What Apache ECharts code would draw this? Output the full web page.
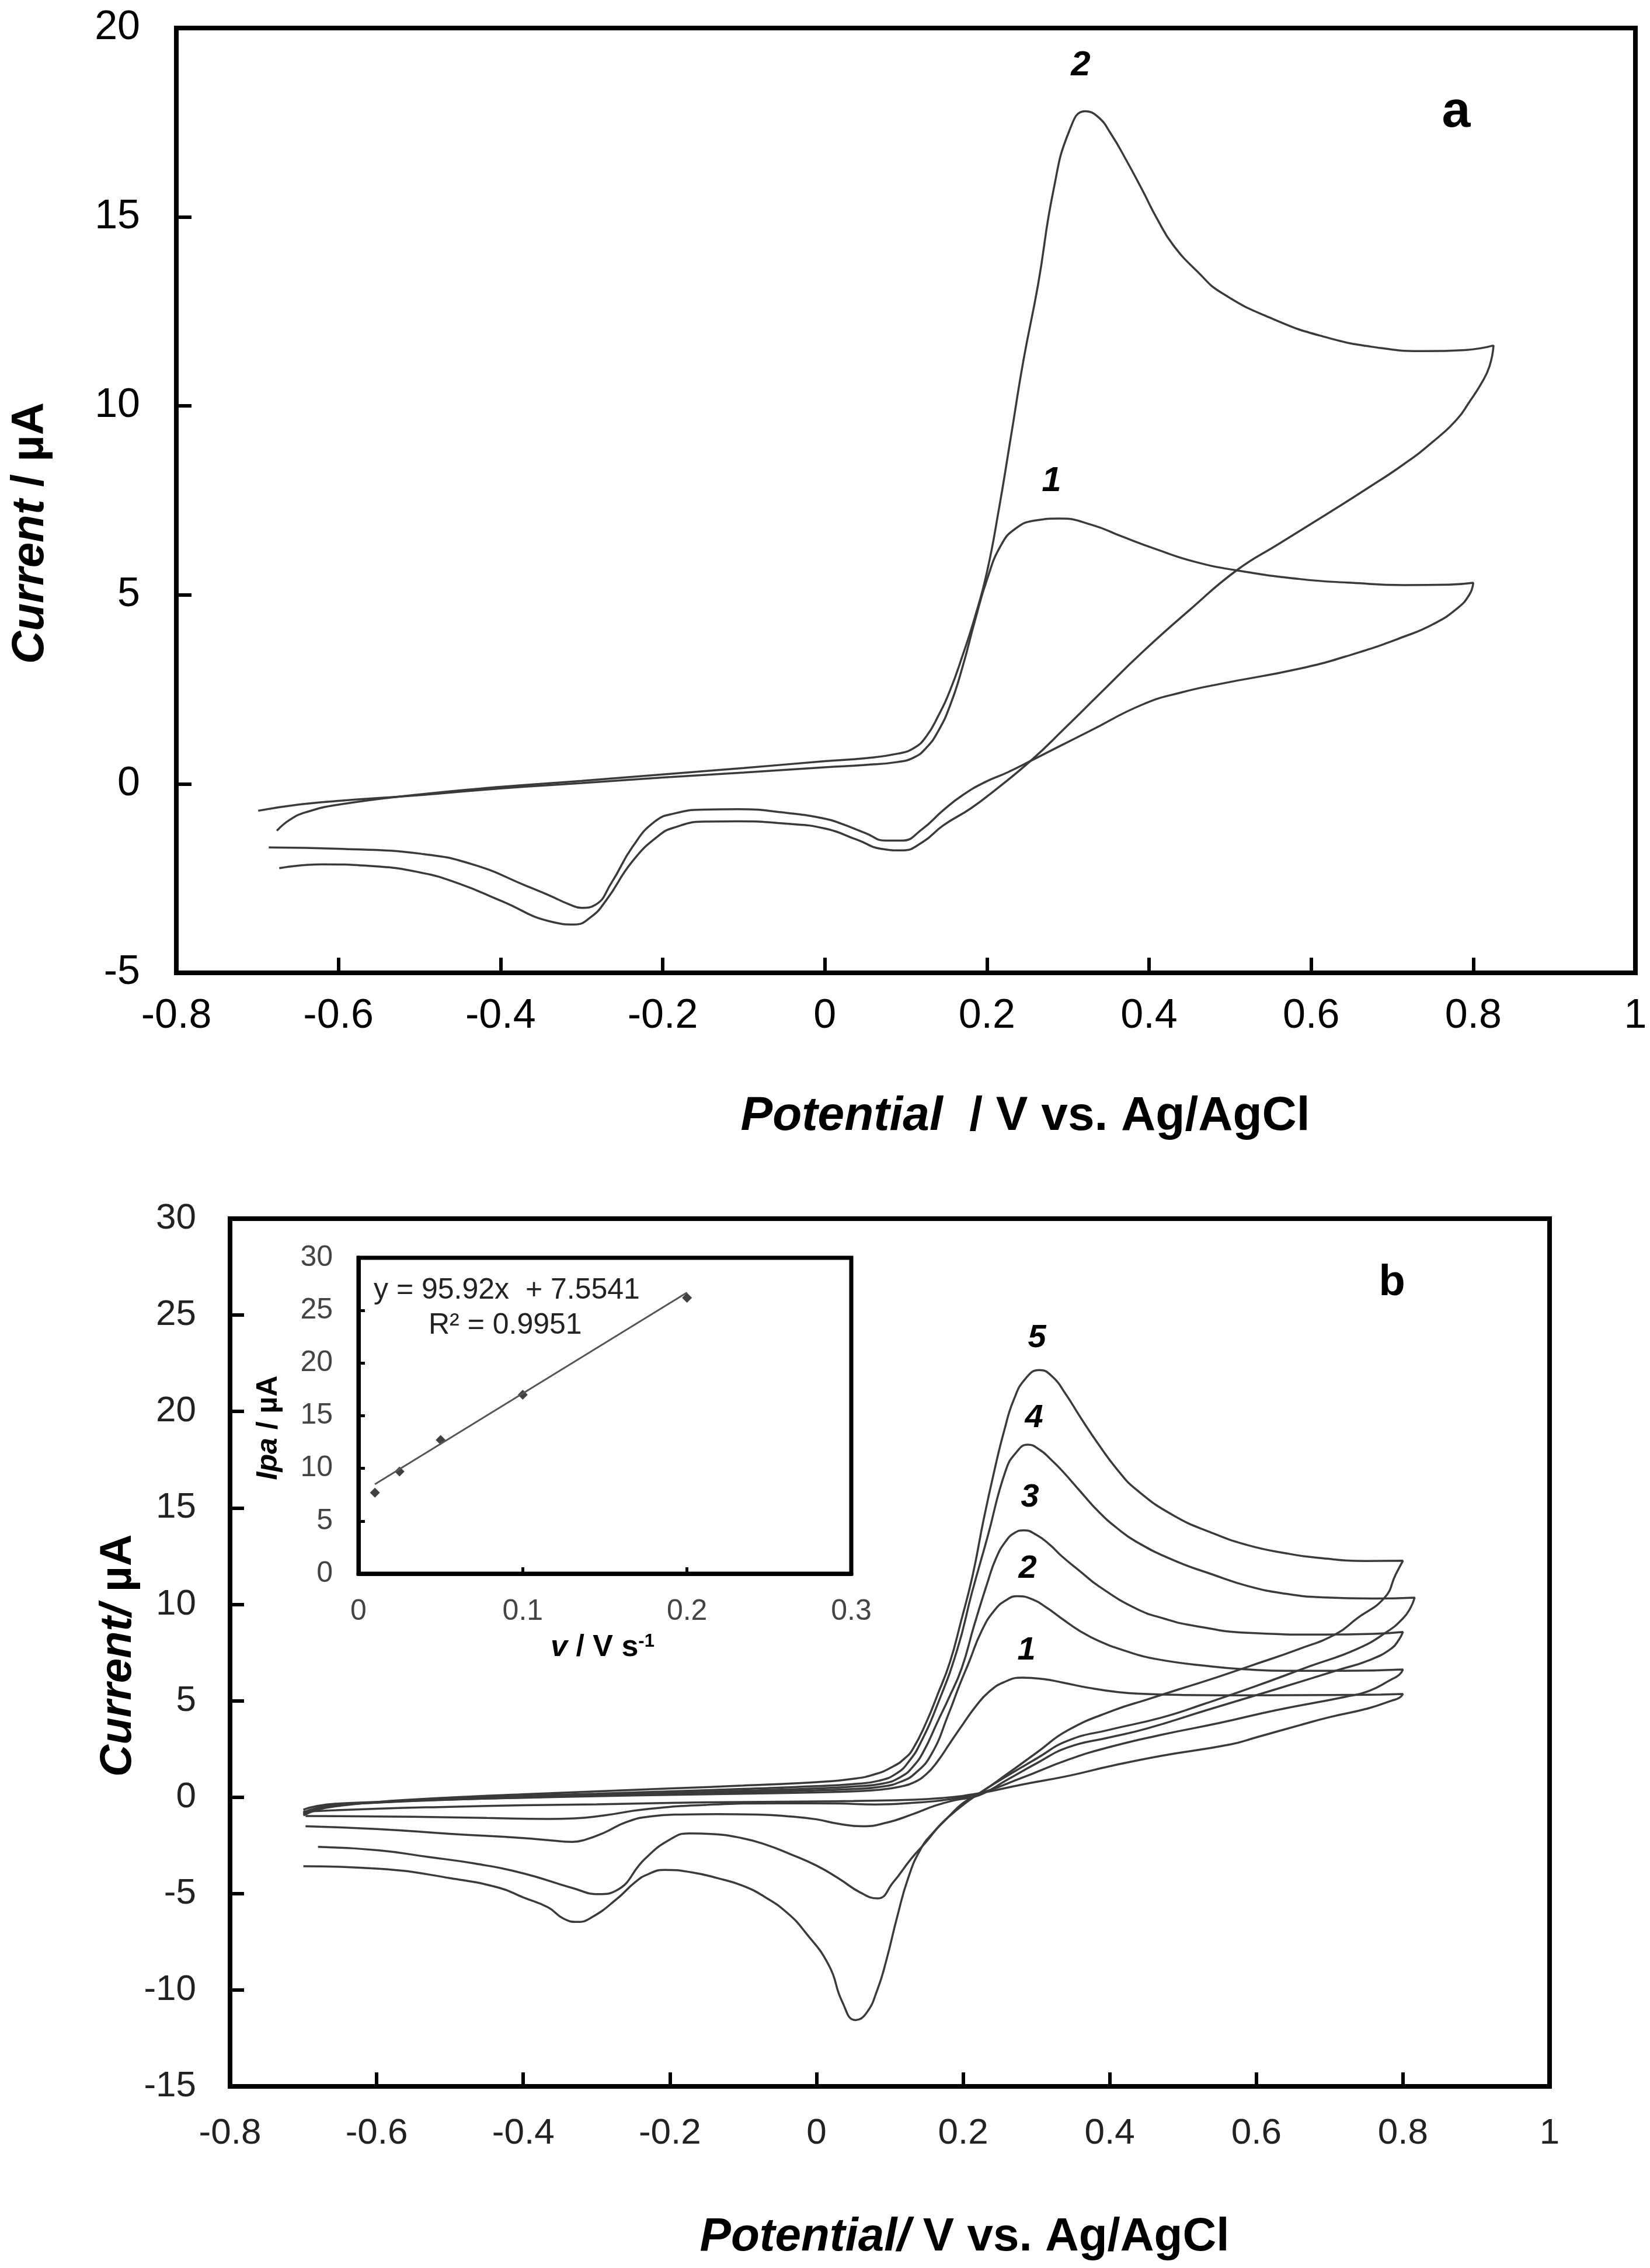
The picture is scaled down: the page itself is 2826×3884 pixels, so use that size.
<!DOCTYPE html>
<html>
<head>
<meta charset="utf-8">
<title>Cyclic voltammograms</title>
<script src="https://cdn.jsdelivr.net/npm/echarts@6/dist/echarts.min.js"></script>
<style>
  html, body { margin: 0; padding: 0; background: #fff; }
  #chart-container { width: 2826px; height: 3884px; }
</style>
</head>
<body>
<div id="chart-container"></div>
<script>
// ---- data ----
// panel a: two voltammograms, [potential V, current uA], forward then reverse scan
var cvA1 = [[-0.699,-0.71],[-0.65,-0.55],[-0.6,-0.45],[-0.5,-0.3],[-0.4,-0.12],[-0.3,0.02],[-0.2,0.17],[-0.1,0.3],[0,0.44],[0.05,0.5],[0.09,0.58],[0.11,0.7],[0.125,0.95],[0.14,1.4],[0.155,2.1],[0.17,3.1],[0.185,4.3],[0.2,5.4],[0.217,6.3],[0.235,6.75],[0.26,6.97],[0.29,7.02],[0.33,6.85],[0.366,6.55],[0.41,6.2],[0.456,5.88],[0.508,5.65],[0.586,5.42],[0.65,5.32],[0.715,5.26],[0.77,5.27],[0.8,5.32],
  [0.795,5.0],[0.78,4.64],[0.75,4.22],[0.715,3.9],[0.65,3.42],[0.586,3.05],[0.489,2.65],[0.44,2.42],[0.392,2.1],[0.327,1.4],[0.29,1.0],[0.256,0.63],[0.225,0.3],[0.198,0.05],[0.17,-0.3],[0.146,-0.7],[0.12,-1.2],[0.095,-1.5],[0.075,-1.5],[0.05,-1.3],[0.02,-1.05],[0,-0.92],[-0.05,-0.76],[-0.107,-0.67],[-0.15,-0.68],[-0.185,-0.78],[-0.21,-1.0],[-0.237,-1.66],[-0.263,-2.61],[-0.283,-3.2],[-0.3,-3.28],[-0.315,-3.19],[-0.34,-2.95],[-0.367,-2.71],[-0.433,-2.14],[-0.498,-1.85],[-0.595,-1.72],[-0.686,-1.68]];
var cvA2 = [[-0.676,-1.24],[-0.66,-0.95],[-0.64,-0.75],[-0.6,-0.55],[-0.5,-0.28],[-0.4,-0.08],[-0.3,0.08],[-0.2,0.25],[-0.1,0.42],[0,0.6],[0.05,0.68],[0.09,0.8],[0.11,0.95],[0.125,1.25],[0.14,1.8],[0.155,2.5],[0.17,3.4],[0.185,4.4],[0.2,5.6],[0.215,7.3],[0.23,9.24],[0.245,11.2],[0.263,13.2],[0.282,15.7],[0.302,17.3],[0.321,17.8],[0.337,17.65],[0.353,17.2],[0.372,16.5],[0.392,15.7],[0.41,14.95],[0.43,14.25],[0.46,13.55],[0.489,13.0],[0.553,12.3],[0.618,11.82],[0.68,11.55],[0.74,11.45],[0.79,11.48],[0.825,11.6],
  [0.82,11.05],[0.81,10.6],[0.795,10.1],[0.78,9.65],[0.75,9.05],[0.715,8.47],[0.668,7.8],[0.618,7.12],[0.56,6.35],[0.508,5.65],[0.45,4.6],[0.392,3.49],[0.34,2.4],[0.295,1.45],[0.256,0.65],[0.211,-0.15],[0.18,-0.65],[0.146,-1.1],[0.12,-1.55],[0.095,-1.76],[0.07,-1.72],[0.04,-1.48],[0,-1.18],[-0.05,-1.05],[-0.107,-0.99],[-0.15,-1.0],[-0.185,-1.15],[-0.205,-1.37],[-0.237,-2.04],[-0.27,-3.09],[-0.289,-3.53],[-0.309,-3.72],[-0.335,-3.66],[-0.4,-3.09],[-0.45,-2.65],[-0.498,-2.35],[-0.563,-2.17],[-0.62,-2.13],[-0.673,-2.23]];

// panel b: five scan rates
var cvB1 = [[-0.7,-0.65],[-0.68,-0.45],[-0.65,-0.33],[-0.6,-0.25],[-0.5,-0.12],[-0.4,-0.03],[-0.3,0.05],[-0.2,0.12],[-0.1,0.18],[0,0.25],[0.05,0.3],[0.09,0.4],[0.115,0.55],[0.132,0.75],[0.15,1.2],[0.165,1.85],[0.182,2.8],[0.2,3.8],[0.218,4.75],[0.235,5.45],[0.255,5.95],[0.281,6.2],[0.31,6.12],[0.335,5.95],[0.37,5.68],[0.411,5.45],[0.45,5.35],[0.5,5.3],[0.6,5.28],[0.7,5.3],[0.77,5.32],[0.8,5.35],
  [0.795,5.15],[0.784,5.0],[0.753,4.61],[0.7,4.15],[0.658,3.72],[0.6,3.1],[0.564,2.73],[0.47,2.14],[0.4,1.6],[0.343,1.1],[0.28,0.65],[0.222,0.2],[0.17,-0.05],[0.12,-0.15],[0.05,-0.2],[0,-0.22],[-0.1,-0.25],[-0.2,-0.3],[-0.3,-0.37],[-0.4,-0.42],[-0.5,-0.5],[-0.6,-0.6],[-0.7,-0.75]];
var cvB2 = [[-0.7,-0.8],[-0.68,-0.55],[-0.65,-0.38],[-0.6,-0.28],[-0.5,-0.13],[-0.4,-0.02],[-0.3,0.08],[-0.2,0.16],[-0.1,0.25],[0,0.35],[0.05,0.42],[0.09,0.55],[0.115,0.8],[0.135,1.25],[0.157,2.24],[0.18,4.3],[0.195,5.8],[0.208,7.0],[0.225,8.6],[0.243,9.7],[0.26,10.25],[0.274,10.42],[0.295,10.25],[0.315,9.8],[0.335,9.25],[0.36,8.6],[0.385,8.1],[0.42,7.6],[0.462,7.17],[0.538,6.78],[0.59,6.62],[0.64,6.55],[0.72,6.55],[0.8,6.62],
  [0.795,6.35],[0.784,6.1],[0.753,5.5],[0.721,5.2],[0.627,4.51],[0.55,3.85],[0.47,3.23],[0.4,2.6],[0.343,1.94],[0.28,1.0],[0.222,0.2],[0.18,-0.12],[0.13,-0.3],[0.08,-0.38],[0.03,-0.33],[-0.05,-0.32],[-0.15,-0.4],[-0.234,-0.63],[-0.29,-0.95],[-0.33,-1.1],[-0.366,-1.13],[-0.45,-1.08],[-0.55,-1.02],[-0.65,-0.99],[-0.697,-0.98]];
var cvB3 = [[-0.7,-0.85],[-0.68,-0.6],[-0.65,-0.42],[-0.6,-0.28],[-0.5,-0.1],[-0.4,0.02],[-0.3,0.12],[-0.2,0.22],[-0.1,0.33],[0,0.45],[0.05,0.55],[0.09,0.7],[0.115,1.05],[0.132,1.6],[0.147,2.44],[0.165,3.9],[0.18,5.1],[0.198,6.68],[0.215,8.9],[0.233,11.1],[0.245,12.4],[0.258,13.26],[0.27,13.7],[0.283,13.84],[0.3,13.6],[0.318,13.1],[0.335,12.48],[0.36,11.7],[0.385,10.94],[0.436,9.78],[0.475,9.25],[0.512,8.91],[0.589,8.52],[0.69,8.43],[0.76,8.47],[0.8,8.57],
  [0.795,8.2],[0.784,7.7],[0.753,7.09],[0.712,6.6],[0.627,5.6],[0.532,4.51],[0.45,3.55],[0.4,3.1],[0.343,2.58],[0.3,1.75],[0.26,0.9],[0.222,0.1],[0.19,-0.15],[0.162,-0.44],[0.13,-0.9],[0.096,-1.32],[0.063,-1.51],[0.03,-1.38],[0,-1.15],[-0.036,-1.0],[-0.08,-0.9],[-0.135,-0.88],[-0.185,-0.9],[-0.227,-1.0],[-0.26,-1.3],[-0.29,-1.85],[-0.315,-2.2],[-0.333,-2.32],[-0.36,-2.25],[-0.4,-2.12],[-0.5,-1.9],[-0.6,-1.65],[-0.697,-1.51]];
var cvB4 = [[-0.7,-0.9],[-0.68,-0.62],[-0.65,-0.42],[-0.6,-0.27],[-0.5,-0.07],[-0.4,0.07],[-0.3,0.18],[-0.2,0.3],[-0.1,0.43],[0,0.57],[0.05,0.68],[0.085,0.85],[0.11,1.25],[0.127,1.9],[0.142,2.82],[0.165,4.8],[0.192,7.65],[0.212,10.6],[0.233,13.45],[0.258,16.93],[0.273,17.9],[0.288,18.28],[0.305,18.0],[0.32,17.5],[0.335,16.93],[0.36,15.85],[0.385,14.8],[0.41,13.95],[0.436,13.25],[0.487,12.29],[0.54,11.55],[0.589,10.94],[0.64,10.55],[0.69,10.36],[0.76,10.3],[0.816,10.35],
  [0.81,9.8],[0.8,9.27],[0.778,8.57],[0.737,7.68],[0.673,6.79],[0.595,5.7],[0.53,4.85],[0.47,4.12],[0.4,3.5],[0.343,2.93],[0.3,2.0],[0.26,1.1],[0.222,0.2],[0.195,-0.55],[0.169,-1.44],[0.15,-2.3],[0.129,-3.2],[0.105,-4.4],[0.083,-5.25],[0.06,-4.95],[0.03,-4.21],[0,-3.55],[-0.036,-2.95],[-0.07,-2.45],[-0.102,-2.12],[-0.14,-1.92],[-0.174,-1.88],[-0.2,-2.2],[-0.234,-3.2],[-0.273,-4.84],[-0.297,-5.03],[-0.333,-4.71],[-0.399,-3.96],[-0.465,-3.45],[-0.53,-3.1],[-0.597,-2.76],[-0.68,-2.58]];
var cvB5 = [[-0.7,-0.95],[-0.68,-0.65],[-0.65,-0.45],[-0.6,-0.25],[-0.5,-0.02],[-0.4,0.15],[-0.3,0.3],[-0.2,0.45],[-0.1,0.6],[0,0.78],[0.05,0.95],[0.0807,1.2],[0.105,1.6],[0.12,2.0],[0.1315,2.5],[0.15,3.9],[0.165,5.3],[0.182,7.0],[0.197,9.1],[0.213,11.5],[0.228,14.4],[0.243,17.0],[0.256,19.0],[0.269,20.6],[0.285,21.7],[0.304,22.15],[0.322,21.8],[0.34,20.9],[0.36,19.7],[0.385,18.28],[0.41,17.0],[0.436,15.96],[0.487,14.61],[0.54,13.7],[0.589,13.06],[0.64,12.65],[0.69,12.39],[0.75,12.25],[0.8,12.26],
  [0.79,11.54],[0.775,10.35],[0.737,9.26],[0.709,8.47],[0.658,7.68],[0.592,6.81],[0.545,6.2],[0.495,5.6],[0.45,5.05],[0.406,4.51],[0.343,3.47],[0.3,2.3],[0.26,1.2],[0.222,0.19],[0.2,-0.3],[0.182,-0.94],[0.16,-1.8],[0.142,-2.7],[0.125,-4.2],[0.11,-6.22],[0.095,-8.5],[0.083,-9.99],[0.068,-11.2],[0.053,-11.56],[0.035,-10.6],[0.017,-8.73],[-0.016,-6.97],[-0.04,-6.0],[-0.069,-5.21],[-0.1,-4.6],[-0.135,-4.2],[-0.17,-3.9],[-0.207,-3.77],[-0.23,-4.0],[-0.247,-4.4],[-0.273,-5.3],[-0.306,-6.22],[-0.326,-6.47],[-0.345,-6.3],[-0.366,-5.72],[-0.4,-5.2],[-0.432,-4.71],[-0.498,-4.21],[-0.597,-3.71],[-0.7,-3.58]];

// inset: anodic peak current vs scan rate
var scanRate = [0.01, 0.025, 0.05, 0.1, 0.2];
var ipa = [7.7, 9.7, 12.7, 17.0, 26.2];
var fitX = [0.01, 0.2];
var fitY = [8.5, 26.7];

var fitText = 'y = 95.92x  + 7.5541';
var r2Text = 'R\u00b2 = 0.9951';

// ---- chart ----
var dom = document.getElementById('chart-container');
var myChart = echarts.init(dom, null, { renderer: 'canvas', devicePixelRatio: 1 });

var FONT = '"Liberation Sans", Arial, sans-serif';
var LINE = '#3a3a3a';

function pairs(xs, ys) {
  return xs.map(function (x, i) { return [x, ys[i]]; });
}

function cvSeries(data, axis) {
  return {
    type: 'line', xAxisIndex: axis, yAxisIndex: axis, data: data,
    showSymbol: false, smooth: 0.5, animation: false,
    lineStyle: { color: LINE, width: 3.5 }
  };
}

function valueAxis(grid, min, max, step, fs, margin, color, tickLen) {
  var inset = grid === 2;
  return {
    type: 'value', gridIndex: grid, min: min, max: max, interval: step,
    splitLine: { show: false },
    axisLine: { show: true, onZero: false, lineStyle: { color: '#000', width: inset ? 7 : 8 } },
    axisTick: { show: true, inside: true, length: tickLen, lineStyle: { color: '#000', width: inset ? 5 : 6 } },
    axisLabel: { fontFamily: FONT, fontSize: fs, color: color, margin: margin }
  };
}

function txt(x, y, text, size, weight, style, rot) {
  return {
    type: 'text', x: x, y: y, rotation: rot || 0, z: 100,
    style: {
      text: text, fontFamily: FONT, fontSize: size, fontWeight: weight || 'normal',
      fontStyle: style || 'normal', fill: '#000', align: 'center', verticalAlign: 'middle'
    }
  };
}

function richTxt(x, y, text, size, rot) {
  return {
    type: 'text', x: x, y: y, rotation: rot || 0, z: 100,
    style: {
      text: text, fontFamily: FONT, fontSize: size, fontWeight: 'bold', fill: '#000',
      align: 'center', verticalAlign: 'middle',
      rich: {
        i: { fontFamily: FONT, fontSize: size, fontWeight: 'bold', fontStyle: 'italic', fill: '#000' },
        n: { fontFamily: FONT, fontSize: size, fontWeight: 'bold', fill: '#000' },
        sup: { fontFamily: FONT, fontSize: Math.round(size * 0.6), fontWeight: 'bold', fill: '#000', verticalAlign: 'top' }
      }
    }
  };
}

var option = {
  backgroundColor: '#fff',
  animation: false,
  grid: [
    { left: 302, top: 48, width: 2499, height: 1618, show: true, borderColor: '#000', borderWidth: 8 },
    { left: 394, top: 2087, width: 2260, height: 1486, show: true, borderColor: '#000', borderWidth: 8 },
    { left: 614, top: 2154, width: 844, height: 541, show: true, borderColor: '#000', borderWidth: 7, backgroundColor: '#fff' }
  ],
  xAxis: [
    valueAxis(0, -0.8, 1, 0.2, 70, 40, '#000', 26),
    valueAxis(1, -0.8, 1, 0.2, 62, 50, '#222', 24),
    valueAxis(2, 0, 0.3, 0.1, 50, 40, '#444', 11)
  ],
  yAxis: [
    valueAxis(0, -5, 20, 5, 70, 62, '#000', 26),
    valueAxis(1, -15, 30, 5, 62, 58, '#222', 24),
    valueAxis(2, 0, 30, 5, 50, 44, '#444', 11)
  ],
  series: [
    cvSeries(cvA1, 0),
    cvSeries(cvA2, 0),
    cvSeries(cvB1, 1),
    cvSeries(cvB2, 1),
    cvSeries(cvB3, 1),
    cvSeries(cvB4, 1),
    cvSeries(cvB5, 1),
    {
      type: 'line', xAxisIndex: 2, yAxisIndex: 2, data: pairs(fitX, fitY),
      showSymbol: false, lineStyle: { color: '#555', width: 3 }
    },
    {
      type: 'scatter', xAxisIndex: 2, yAxisIndex: 2, data: pairs(scanRate, ipa),
      symbol: 'diamond', symbolSize: 17, itemStyle: { color: '#111' }
    }
  ],
  graphic: [
    // panel a
    richTxt(52, 913, '{i|Current} {n|/ \u00b5A}', 78, Math.PI / 2),
    richTxt(1756, 1912, '{i|Potential}{n|  / V vs. Ag/AgCl}', 82),
    txt(2494, 193, 'a', 88, 'bold'),
    txt(1851, 112, '2', 60, 'bold', 'italic'),
    txt(1801, 824, '1', 60, 'bold', 'italic'),
    // panel b
    richTxt(203, 2835, '{i|Current/} {n|\u00b5A}', 76, Math.PI / 2),
    richTxt(1652, 3832, '{i|Potential/}{n| V vs. Ag/AgCl}', 80),
    txt(2384, 2198, 'b', 74, 'bold'),
    txt(1776, 2292, '5', 56, 'bold', 'italic'),
    txt(1771, 2429, '4', 56, 'bold', 'italic'),
    txt(1764, 2565, '3', 56, 'bold', 'italic'),
    txt(1760, 2687, '2', 56, 'bold', 'italic'),
    txt(1758, 2827, '1', 56, 'bold', 'italic'),
    // inset
    richTxt(460, 2445, '{i|Ipa} {n|/ \u00b5A}', 50, Math.PI / 2),
    richTxt(1032, 2822, '{i|v} {n|/ V s}{sup|-1}', 52),
    {
      type: 'text', x: 640, y: 2210, z: 100,
      style: { text: fitText, fontFamily: FONT, fontSize: 50, fill: '#222', align: 'left', verticalAlign: 'middle' }
    },
    {
      type: 'text', x: 734, y: 2270, z: 100,
      style: { text: r2Text, fontFamily: FONT, fontSize: 50, fill: '#222', align: 'left', verticalAlign: 'middle' }
    }
  ]
};

if (option && typeof option === 'object') {
  myChart.setOption(option);
}
</script>
</body>
</html>
